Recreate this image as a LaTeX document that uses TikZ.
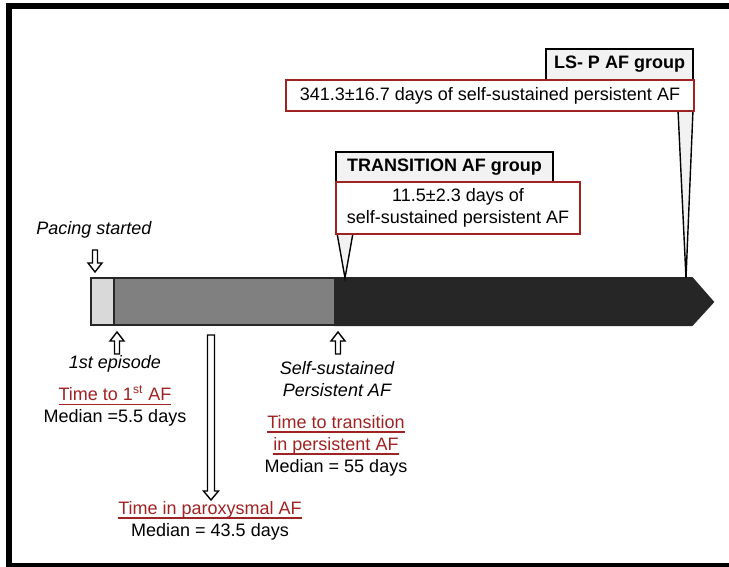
\documentclass[tikz,border=0pt]{standalone}
\usepackage{fontspec}
\setmainfont{Liberation Sans}
\definecolor{afred}{RGB}{160,35,35}
\definecolor{barlight}{RGB}{217,217,217}
\definecolor{barmid}{RGB}{128,128,128}
\definecolor{bardark}{RGB}{38,38,38}
\newcommand{\afsize}{\fontsize{9}{11}\selectfont}
\newcommand{\afunder}[1]{{\color{afred}\setbox0\hbox{#1}\rlap{\rule[-2pt]{\wd0}{0.6pt}}\box0}}
\tikzset{
  groupbox/.style={draw=black, line width=1pt, fill=gray!10, font=\afsize\bfseries, inner sep=0pt},
  daysbox/.style={draw=afred, line width=1pt, fill=white, align=center, font=\afsize, inner sep=0pt},
  hollow/.style={draw=black, line width=0.7pt, fill=white},
  callout/.style={draw=black, line width=0.7pt, fill=gray!10},
  bar/.style={draw=bardark, line width=1pt},
  note/.style={align=center, inner sep=0pt, font=\afsize},
  italicnote/.style={note, font=\afsize\itshape}
}
\begin{document}
\begin{tikzpicture}[x=0.5pt, y=-0.5pt]
\useasboundingbox (0,0) rectangle (729,567);
\draw[line width=3pt] (729,6) -- (9,6) -- (9,566) -- (729,566);
% time bar
\draw[bar, fill=barlight] (91,278) rectangle (114,325);
\draw[bar, fill=barmid] (114,278) rectangle (335,325);
\draw[bar, fill=bardark] (335,278) -- (692,278) -- (713,302) -- (692,325) -- (335,325) -- cycle;
\coordinate (pacing) at (95,272);
\coordinate (episode) at (117,332);
\coordinate (selfsust) at (338,332);
\coordinate (paroxtop) at (211,335);
\coordinate (transtip) at (345,278);
\coordinate (lsptip) at (686,278);
% hollow arrows
\draw[hollow] (pacing) -- ++(-7,-9) -- ++(4.5,0) -- ++(0,-13) -- ++(5,0) -- ++(0,13) -- ++(4.5,0) -- cycle;
\draw[hollow] (episode) -- ++(-7,9) -- ++(4.5,0) -- ++(0,13) -- ++(5,0) -- ++(0,-13) -- ++(4.5,0) -- cycle;
\draw[hollow] (selfsust) -- ++(-7,9) -- ++(4.5,0) -- ++(0,13) -- ++(5,0) -- ++(0,-13) -- ++(4.5,0) -- cycle;
\draw[hollow] (paroxtop) ++(-3.5,0) -- ++(0,156) -- ++(-4,0) -- ++(7.5,9) -- ++(7.5,-9) -- ++(-4,0) -- ++(0,-156) -- cycle;
% callouts
\draw[callout] (337,233) -- (transtip) -- (353,233);
\draw[callout] (678,110) -- (lsptip) -- (693,110);
\node[groupbox, minimum width=108.5pt, minimum height=15.5pt] (transgroup) at (444.5,167.5) {TRANSITION AF group};
\node[daysbox, minimum width=122pt, minimum height=26pt] (transdays) at (458,208) {11.5±2.3 days of\\self-sustained persistent AF};
\node[groupbox, minimum width=73.5pt, minimum height=15.5pt] (lspgroup) at (619.5,64.5) {LS- P AF group};
\node[daysbox, minimum width=204pt, minimum height=15.5pt] (lspdays) at (490,95.5) {341.3±16.7 days of self-sustained persistent AF};
% labels
\node[italicnote] (pacingtxt) at (94,230) {Pacing started};
\node[italicnote] (episodetxt) at (115,364) {1st episode};
\node[note] (firstaf) at (115,406) {\afunder{Time to 1\textsuperscript{st} AF}\\Median =5.5 days};
\node[italicnote] (selftxt) at (337,379) {Self-sustained\\Persistent AF};
\node[note] (transtxt) at (336,446) {\afunder{Time to transition}\\\afunder{in persistent AF}\\Median = 55 days};
\node[note] (paroxtxt) at (210,521) {\afunder{Time in paroxysmal AF}\\Median = 43.5 days};
\end{tikzpicture}
\end{document}
